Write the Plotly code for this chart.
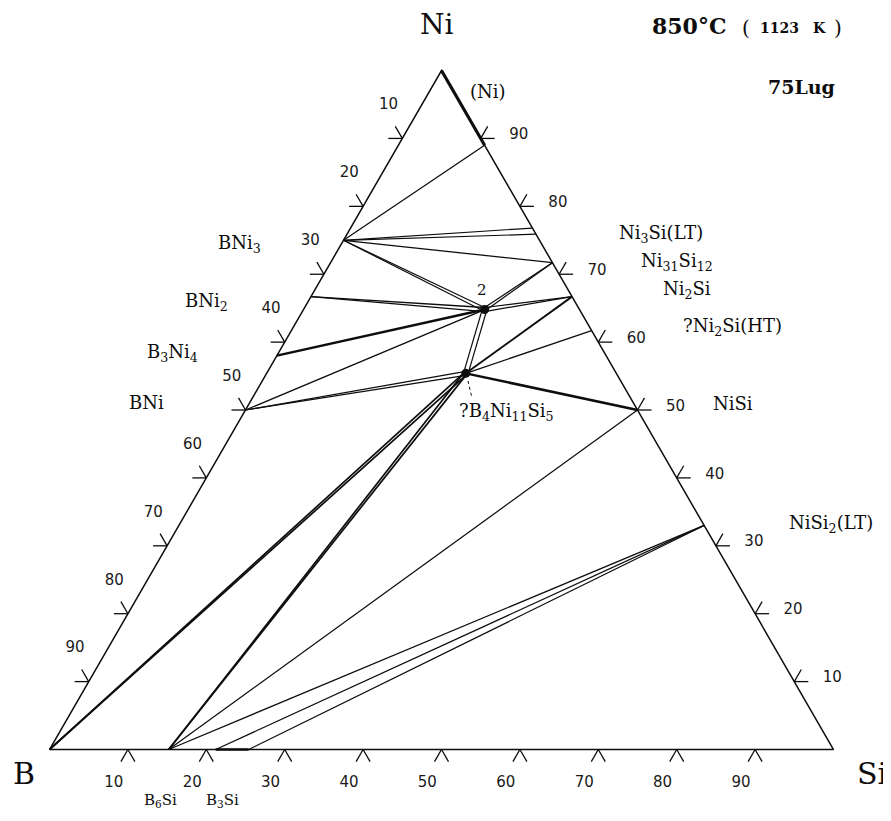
import math
import plotly.graph_objects as go

# ---------------- data: phase compositions (at.% Ni, B, Si) ----------------
phase_names = ["Ni", "B", "Si", "(Ni)", "BNi3", "BNi2", "B3Ni4", "BNi",
               "Ni3Si_a", "Ni3Si_b", "Ni31Si12", "Ni2Si", "Ni2Si_HT", "NiSi", "NiSi2",
               "B6Si", "B3Si_a", "B3Si_b",
               "T2", "T2_n", "T2_s", "T2_w", "T2_e",
               "T1", "T1_n", "T1_s", "T1_w", "T1_e"]
phase_ni = [100, 0, 0, 89, 75, 66.7, 58, 50,
            76.8, 75.9, 71.7, 66.7, 61.7, 50, 33,
            0, 0, 0,
            64.8, 65.1, 64.5, 64.8, 64.8,
            55.4, 55.7, 55.1, 55.4, 55.4]
phase_b = [0, 100, 0, 0, 25, 33.3, 42, 50,
           0, 0, 0, 0, 0, 0, 0,
           84.8, 78.8, 74.6,
           12.1, 11.95, 12.25, 12.4, 11.8,
           19.2, 19.05, 19.35, 19.5, 18.9]
phase_si = [0, 0, 100, 11, 0, 0, 0, 0,
            23.2, 24.1, 28.3, 33.3, 38.3, 50, 67,
            15.2, 21.2, 25.4,
            23.1, 22.95, 23.25, 22.8, 23.4,
            25.4, 25.25, 25.55, 25.1, 25.7]

# ---------------- data: tie lines / phase boundaries ----------------
tie_from = ["Ni", "(Ni)", "BNi3", "BNi3", "BNi3", "BNi3", "BNi3",
            "T2_n", "T2_e", "T2_n", "T2_s", "T2_n", "T2_s", "T2", "T2",
            "T2_w", "T2_e", "T1_n", "T1_s",
            "T1", "T1", "T1", "T1_w", "T1_s", "T1_w", "T1_s",
            "B6Si", "B6Si", "B3Si_a", "B3Si_b", "B3Si_a"]
tie_to = ["(Ni)", "BNi3", "Ni3Si_a", "Ni3Si_b", "Ni31Si12", "T2_n", "T2_s",
          "Ni31Si12", "Ni31Si12", "Ni2Si", "Ni2Si", "BNi2", "BNi2", "B3Ni4", "BNi",
          "T1_w", "T1_e", "BNi", "BNi",
          "Ni2Si", "Ni2Si_HT", "NiSi", "B", "B", "B6Si", "B6Si",
          "NiSi", "NiSi2", "NiSi2", "NiSi2", "B3Si_b"]

# ternary phases shown as dots
dot_phases = ["T2", "T1"]

# ticks along each edge (at.%)
tick_vals = [10, 20, 30, 40, 50, 60, 70, 80, 90]
tick_text = [str(v) for v in tick_vals]

# ---------------- styles ----------------
tie_width = [3.2, 1.3, 1.2, 1.2, 1.3, 1.2, 1.2,
             1.2, 1.2, 1.2, 1.2, 1.3, 1.3, 2.4, 1.3,
             1.2, 1.2, 1.2, 1.2,
             1.9, 1.3, 2.5, 1.7, 1.7, 1.7, 1.7,
             1.25, 1.25, 1.25, 1.25, 2.6]
FRAME_W = 1.5
INK = "#0d0d0d"
PX = 7.84            # pixels per at.%
TICK_LEN = 14 / PX   # tick leg length in data units
SERIF = "DejaVu Serif"
SANS = "DejaVu Sans"

# page: the browser body has an 8 px margin on each side
PAGE_W, PAGE_H = 891, 821
OFF = 8
W, H = PAGE_W - OFF, PAGE_H - 2 * OFF

S3 = math.sqrt(3) / 2
idx = {n: i for i, n in enumerate(phase_names)}


def proj(ni, b, si):
    t = ni + b + si
    return (si + ni / 2) / t * 100, ni / t * 100 * S3


def pt(name):
    i = idx[name]
    return proj(phase_ni[i], phase_b[i], phase_si[i])


fig = go.Figure()

# frame
fx, fy = [], []
for n in ["B", "Si", "Ni", "B"]:
    x, y = pt(n)
    fx.append(x)
    fy.append(y)
fig.add_trace(go.Scatter(x=fx, y=fy, mode="lines", line=dict(color=INK, width=FRAME_W),
                         hoverinfo="skip", showlegend=False))

# tie lines grouped by width
groups = {}
for a, b, w in zip(tie_from, tie_to, tie_width):
    xa, ya = pt(a)
    xb, yb = pt(b)
    g = groups.setdefault(w, ([], []))
    g[0].extend([xa, xb, None])
    g[1].extend([ya, yb, None])
for w, (gx, gy) in groups.items():
    fig.add_trace(go.Scatter(x=gx, y=gy, mode="lines", line=dict(color=INK, width=w),
                             hoverinfo="skip", showlegend=False))

# ternary phase dots
dx = [pt(n)[0] for n in dot_phases]
dy = [pt(n)[1] for n in dot_phases]
fig.add_trace(go.Scatter(x=dx, y=dy, mode="markers",
                         marker=dict(color=INK, size=9, line=dict(width=0)),
                         hoverinfo="skip", showlegend=False))

# chevron ticks and tick labels
c60, s60 = 0.5, S3
edges = [
    # (composition function, leg directions, label offset in data units)
    (lambda v: proj(0, 100 - v, v), [(-c60, -s60), (c60, -s60)], (-1.8, -4.35)),   # bottom: Si
    (lambda v: proj(100 - v, v, 0), [(-1, 0), (-c60, s60)], (-1.75, 4.2)),          # left: B
    (lambda v: proj(v, 0, 100 - v), [(1, 0), (c60, s60)], (4.85, 0.4)),             # right: Ni
]
tx, ty, lx, ly, lt = [], [], [], [], []
for f, dirs, off in edges:
    for v, t in zip(tick_vals, tick_text):
        x0, y0 = f(v)
        for ddx, ddy in dirs:
            tx.extend([x0, x0 + TICK_LEN * ddx, None])
            ty.extend([y0, y0 + TICK_LEN * ddy, None])
        lx.append(x0 + off[0])
        ly.append(y0 + off[1])
        lt.append(t)
fig.add_trace(go.Scatter(x=tx, y=ty, mode="lines", line=dict(color=INK, width=1.3),
                         hoverinfo="skip", showlegend=False))
fig.add_trace(go.Scatter(x=lx, y=ly, mode="text", text=lt, textposition="middle center",
                         textfont=dict(family=SANS, size=15, color="#1a1a1a"),
                         hoverinfo="skip", showlegend=False))

# ---------------- text labels (placed in page pixels) ----------------
labels = [
    ("Ni", 437, 25, 28, False),
    ("B", 24, 773, 30, False),
    ("Si", 872, 773, 30, False),
    ("850°C", 689, 26, 22, True),
    ("(", 746, 28, 20, False),
    ("1123", 779, 28, 14, True),
    ("K", 819, 28, 14, True),
    (")", 838, 28, 20, False),
    ("75Lug", 801, 87, 19, True),
    ("(Ni)", 488, 91, 18, False),
    ("BNi<sub>3</sub>", 240, 244, 18, False),
    ("BNi<sub>2</sub>", 206, 302, 18, False),
    ("B<sub>3</sub>Ni<sub>4</sub>", 172, 353, 18, False),
    ("BNi", 146, 403, 18, False),
    ("Ni<sub>3</sub>Si(LT)", 661, 234, 18, False),
    ("Ni<sub>31</sub>Si<sub>12</sub>", 677, 262, 18, False),
    ("Ni<sub>2</sub>Si", 687, 290, 18, False),
    ("?Ni<sub>2</sub>Si(HT)", 732, 327, 18, False),
    ("NiSi", 733, 404, 18, False),
    ("NiSi<sub>2</sub>(LT)", 831, 524, 18, False),
    ("?B<sub>4</sub>Ni<sub>11</sub>Si<sub>5</sub>", 506, 412, 18, False),
    ("2", 482, 290, 15, False),
    ("B<sub>6</sub>Si", 160, 800, 15, False),
    ("B<sub>3</sub>Si", 222, 800, 15, False),
]


def paper(px, py):
    return (px - OFF) / W, 1 - (py - OFF) / H


for text, px, py, size, bold in labels:
    ax, ay = paper(px, py)
    fig.add_annotation(x=ax, y=ay, xref="paper", yref="paper",
                       text=("<b>%s</b>" % text) if bold else text, showarrow=False,
                       xanchor="center", yanchor="middle",
                       font=dict(family=SERIF, size=size, color=INK))

# dotted leader to ?B4Ni11Si5
lx0, ly0 = paper(468, 381)
lx1, ly1 = paper(472, 398)
fig.add_shape(type="line", xref="paper", yref="paper",
              x0=lx0, y0=ly0, x1=lx1, y1=ly1,
              line=dict(color=INK, width=1, dash="dot"))

x_lo = (OFF - 49.5) / PX
x_hi = (PAGE_W - 49.5) / PX
y_lo = (749.5 - (OFF + H)) / PX
y_hi = (749.5 - OFF) / PX
fig.update_layout(
    width=W, height=H, autosize=False,
    margin=dict(l=0, r=0, t=0, b=0),
    paper_bgcolor="white", plot_bgcolor="white",
    xaxis=dict(range=[x_lo, x_hi], visible=False, fixedrange=True),
    yaxis=dict(range=[y_lo, y_hi], visible=False, fixedrange=True),
    showlegend=False,
)
fig.write_html("out.html")
